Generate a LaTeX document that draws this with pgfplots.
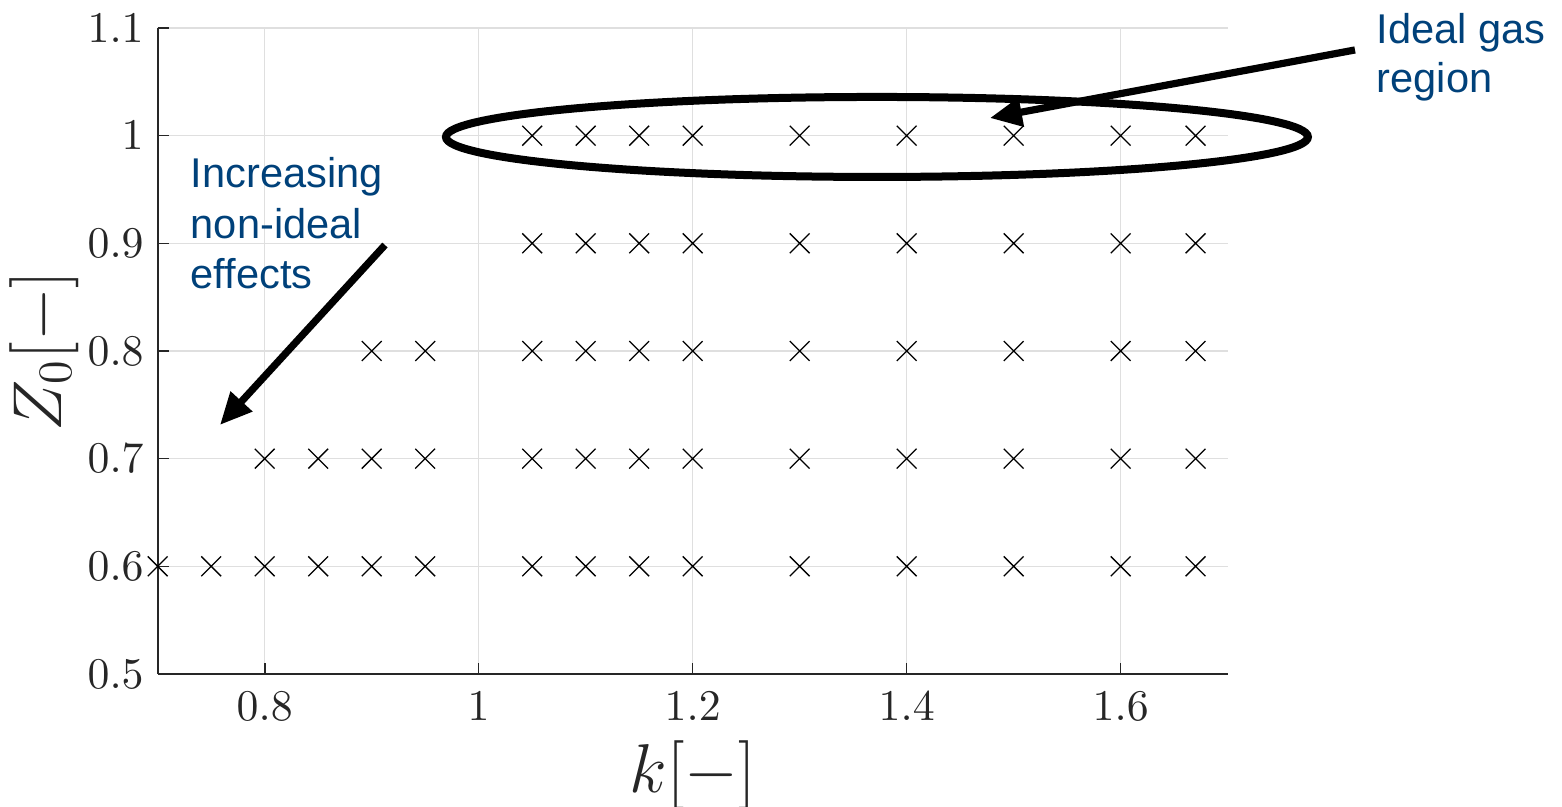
\documentclass[border=0pt]{standalone}
\usepackage{fontspec}
\newfontfamily\arial{Liberation Sans}
\usepackage{pgfplots}
\pgfplotsset{compat=1.18}
\usetikzlibrary{arrows.meta}
\definecolor{ann}{HTML}{00417A}
\definecolor{axc}{RGB}{38,38,38}
\definecolor{gridc}{RGB}{223,223,223}
\begin{document}
\begin{tikzpicture}
\begin{axis}[
  scale only axis, width=267.5pt, height=161.5pt,
  xmin=0.7, xmax=1.7, ymin=0.5, ymax=1.1,
  axis lines=left, axis line style={-, draw=axc, line width=0.4pt},
  xtick={0.8,1,1.2,1.4,1.6}, ytick={0.5,0.6,0.7,0.8,0.9,1,1.1},
  tick align=inside, major tick length=2.7pt, tick style={draw=axc, line width=0.4pt},
  grid=major, major grid style={draw=gridc, line width=0.3pt},
  ticklabel style={font=\fontsize{11.25}{13}\selectfont, text=axc},
  xticklabel style={yshift=-1pt},
  xlabel={$k[-]$}, ylabel={$Z_0[-]$},
  label style={font=\fontsize{16.5}{19}\selectfont, text=axc},
  xlabel style={at={(axis description cs:0.5,-0.1842)}, anchor=base},
  ylabel style={at={(axis description cs:-0.0899,0.5)}, anchor=base},
  clip=false,
]
\addplot[only marks, mark=x, mark size=3.5pt, mark options={line width=0.32pt, draw=black}] table {
x y
1.05 1.0
1.1 1.0
1.15 1.0
1.2 1.0
1.3 1.0
1.4 1.0
1.5 1.0
1.6 1.0
1.67 1.0
1.05 0.9
1.1 0.9
1.15 0.9
1.2 0.9
1.3 0.9
1.4 0.9
1.5 0.9
1.6 0.9
1.67 0.9
0.9 0.8
0.95 0.8
1.05 0.8
1.1 0.8
1.15 0.8
1.2 0.8
1.3 0.8
1.4 0.8
1.5 0.8
1.6 0.8
1.67 0.8
0.8 0.7
0.85 0.7
0.9 0.7
0.95 0.7
1.05 0.7
1.1 0.7
1.15 0.7
1.2 0.7
1.3 0.7
1.4 0.7
1.5 0.7
1.6 0.7
1.67 0.7
0.7 0.6
0.75 0.6
0.8 0.6
0.85 0.6
0.9 0.6
0.95 0.6
1.05 0.6
1.1 0.6
1.15 0.6
1.2 0.6
1.3 0.6
1.4 0.6
1.5 0.6
1.6 0.6
1.67 0.6
};
\draw[line width=2pt, black] (axis cs:1.3722,0.9988) ellipse [x radius=107.75pt, y radius=10pt];
\draw[line width=1.8pt, black, -{Triangle[length=8pt,width=7pt]}] (axis cs:1.8190,1.0796) -- (axis cs:1.4778,1.0164);
\draw[line width=1.8pt, black, -{Triangle[length=8pt,width=7pt]}] (axis cs:0.9124,0.8984) -- (axis cs:0.7582,0.7313);
\node[anchor=base west, inner sep=0, text=ann, font=\arial\fontsize{10.4}{12}\selectfont] at (axis cs:1.8386,1.0860) {Ideal gas};
\node[anchor=base west, inner sep=0, text=ann, font=\arial\fontsize{10.4}{12}\selectfont] at (axis cs:1.8386,1.0405) {region};
\node[anchor=base west, inner sep=0, text=ann, font=\arial\fontsize{10.4}{12}\selectfont] at (axis cs:0.7302,0.9514) {Increasing};
\node[anchor=base west, inner sep=0, text=ann, font=\arial\fontsize{10.4}{12}\selectfont] at (axis cs:0.7302,0.9049) {non-ideal};
\node[anchor=base west, inner sep=0, text=ann, font=\arial\fontsize{10.4}{12}\selectfont] at (axis cs:0.7302,0.8585) {effects};
\coordinate (bbl) at (axis cs:0.5526,0.3765);
\coordinate (btr) at (axis cs:2.0125,1.126);
\end{axis}
\pgfresetboundingbox
\useasboundingbox (bbl) rectangle (btr);
\end{tikzpicture}
\end{document}
